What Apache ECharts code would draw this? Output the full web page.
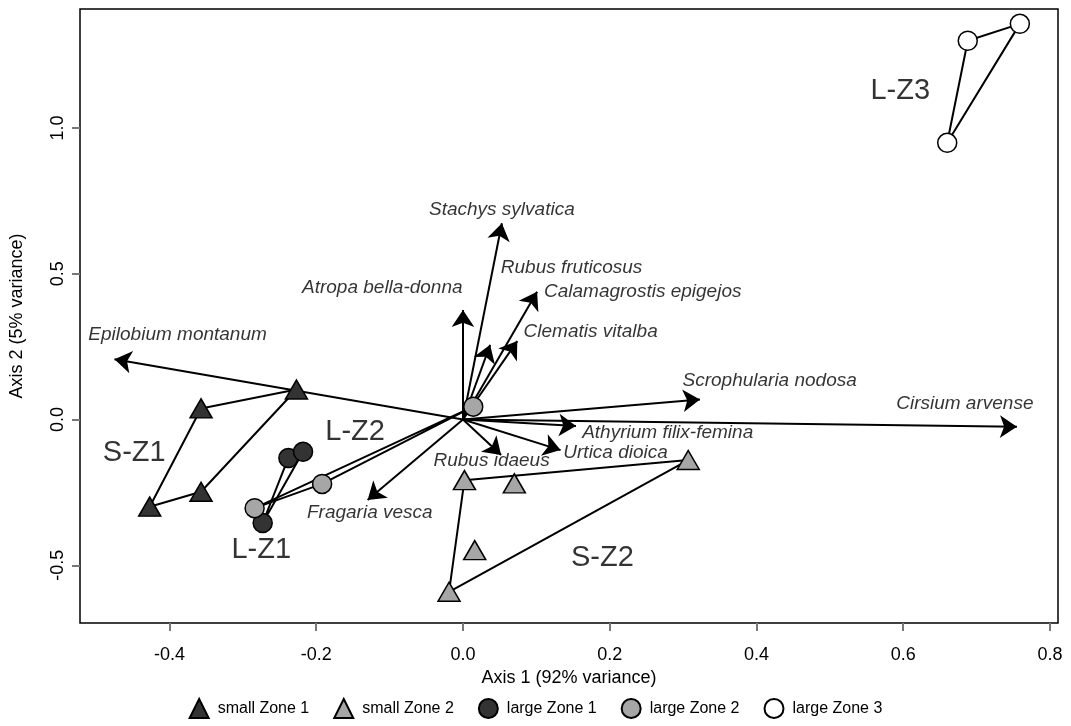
<!DOCTYPE html>
<html>
<head>
<meta charset="utf-8">
<script src="https://cdn.jsdelivr.net/npm/echarts@6/dist/echarts.min.js"></script>
<style>html,body{margin:0;padding:0;background:#fff;}#c{width:1071px;height:726px;}</style>
</head>
<body>
<div id="c"></div>
<script>
// ---- data ----
const xTicks = [-0.4, -0.2, 0.0, 0.2, 0.4, 0.6, 0.8];
const yTicks = [-0.5, 0.0, 0.5, 1.0];

const smallZone1 = [[-0.427, -0.299], [-0.357, 0.038], [-0.227, 0.103], [-0.357, -0.248]];
const smallZone2 = [[0.002, -0.208], [0.070, -0.219], [0.016, -0.448], [-0.019, -0.591], [0.307, -0.139]];
const largeZone1 = [[-0.238, -0.132], [-0.218, -0.111], [-0.273, -0.355]];
const largeZone2 = [[-0.284, -0.304], [-0.192, -0.221], [0.014, 0.044]];
const largeZone3 = [[0.688, 1.299], [0.759, 1.357], [0.660, 0.949]];

// hull vertex order (indices into the group arrays)
const hullS1 = [0, 1, 2, 3, 0];
const hullS2 = [0, 4, 3, 0];
const hullL1 = [2, 0, 1, 2];
const hullL2 = [0, 1, 2, 0];
const hullL3 = [0, 1, 2, 0];

const groupLabels = ['S-Z1', 'L-Z2', 'L-Z1', 'S-Z2', 'L-Z3'];
const groupLabelX = [-0.448, -0.147, -0.275, 0.190, 0.596];
const groupLabelY = [-0.115, -0.043, -0.448, -0.475, 1.127];

const speciesNames = ['Stachys sylvatica', 'Atropa bella-donna', 'Rubus fruticosus', 'Calamagrostis epigejos',
  'Clematis vitalba', 'Scrophularia nodosa', 'Athyrium filix-femina', 'Urtica dioica', 'Rubus idaeus',
  'Cirsium arvense', 'Fragaria vesca', 'Epilobium montanum'];
const speciesX = [0.053, 0.000, 0.037, 0.101, 0.074, 0.323, 0.154, 0.133, 0.052, 0.755, -0.130, -0.475];
const speciesY = [0.673, 0.376, 0.256, 0.438, 0.269, 0.069, -0.022, -0.105, -0.122, -0.025, -0.276, 0.207];
const speciesLabelX = [0.053, -0.110, 0.148, 0.245, 0.174, 0.418, 0.279, 0.208, 0.039, 0.684, -0.127, -0.389];
const speciesLabelY = [0.719, 0.451, 0.520, 0.437, 0.300, 0.134, -0.046, -0.115, -0.142, 0.053, -0.321, 0.290];

// ---- chart ----
const FONT = '"Liberation Sans", Arial, Helvetica, sans-serif';
const hull = (pts, order, name) => ({
  type: 'line', name: name, data: order.map(i => pts[i]), symbol: 'none', silent: true,
  lineStyle: { color: '#000', width: 2 }, z: 2, legendHoverLink: false
});
const pointSeries = (name, pts, symbol, fill, size) => ({
  type: 'scatter', name: name, data: pts, symbol: symbol, symbolSize: size,
  itemStyle: { color: fill, borderColor: '#000', borderWidth: 1.5, opacity: 1 }, z: 5
});

const arrows = speciesNames.map((n, i) => ({ coords: [[0, 0], [speciesX[i], speciesY[i]]] }));
const speciesLabels = speciesNames.map((n, i) => ({ name: n, value: [speciesLabelX[i], speciesLabelY[i]] }));
const groupLabelData = groupLabels.map((n, i) => ({ name: n, value: [groupLabelX[i], groupLabelY[i]] }));

const option = {
  animation: false,
  backgroundColor: '#fff',
  grid: { left: 78, right: 13, top: 9, bottom: 103, show: true, borderColor: '#000', borderWidth: 1.5, backgroundColor: 'transparent' },
  xAxis: {
    type: 'value', min: -0.522, max: 0.811,
    name: 'Axis 1 (92% variance)', nameLocation: 'middle', nameGap: 46,
    nameTextStyle: { fontFamily: FONT, fontSize: 18, color: '#000' },
    axisLine: { show: false, onZero: false },
    splitLine: { show: false },
    axisTick: { show: true, customValues: xTicks, length: 8, inside: false, lineStyle: { color: '#777', width: 2 } },
    axisLabel: { customValues: xTicks, formatter: v => v.toFixed(1), fontFamily: FONT, fontSize: 18, color: '#000', margin: 23 }
  },
  yAxis: {
    type: 'value', min: -0.698, max: 1.408,
    name: 'Axis 2 (5% variance)', nameLocation: 'middle', nameGap: 54, nameRotate: 90,
    nameTextStyle: { fontFamily: FONT, fontSize: 18, color: '#000' },
    axisLine: { show: false, onZero: false },
    splitLine: { show: false },
    axisTick: { show: true, customValues: yTicks, length: 8, lineStyle: { color: '#777', width: 2 } },
    axisLabel: { customValues: yTicks, formatter: v => v.toFixed(1), rotate: 90, fontFamily: FONT, fontSize: 18, color: '#000', margin: 13 }
  },
  legend: {
    data: ['small Zone 1', 'small Zone 2', 'large Zone 1', 'large Zone 2', 'large Zone 3'],
    bottom: 2, left: 'center', itemWidth: 19, itemHeight: 19, itemGap: 24,
    textStyle: { fontFamily: FONT, fontSize: 16, color: '#000', padding: [0, 0, 0, 4] }
  },
  series: [
    hull(smallZone1, hullS1, 'hS1'),
    hull(smallZone2, hullS2, 'hS2'),
    hull(largeZone1, hullL1, 'hL1'),
    hull(largeZone2, hullL2, 'hL2'),
    hull(largeZone3, hullL3, 'hL3'),
    {
      type: 'lines', coordinateSystem: 'cartesian2d', data: arrows, silent: true,
      symbol: ['none', 'arrow'], symbolSize: [1, 17],
      lineStyle: { color: '#000', width: 2, opacity: 1 }, z: 3
    },
    pointSeries('small Zone 1', smallZone1, 'triangle', '#333333', [22, 19]),
    pointSeries('small Zone 2', smallZone2, 'triangle', '#a6a6a6', [22, 19]),
    pointSeries('large Zone 1', largeZone1, 'circle', '#333333', 19),
    pointSeries('large Zone 2', largeZone2, 'circle', '#a6a6a6', 19),
    pointSeries('large Zone 3', largeZone3, 'circle', '#ffffff', 19),
    {
      type: 'scatter', name: 'speciesLabels', data: speciesLabels, symbolSize: 0, silent: true, z: 6,
      label: { show: true, position: 'inside', formatter: '{b}', fontFamily: FONT, fontStyle: 'italic', fontSize: 19, color: '#000' }
    },
    {
      type: 'scatter', name: 'groupLabels', data: groupLabelData, symbolSize: 0, silent: true, z: 6,
      label: { show: true, position: 'inside', formatter: '{b}', fontFamily: FONT, fontSize: 29, color: '#000' }
    }
  ]
};
const chart = echarts.init(document.getElementById('c'), null, { renderer: 'canvas' });
chart.setOption(option);
</script>
</body>
</html>
